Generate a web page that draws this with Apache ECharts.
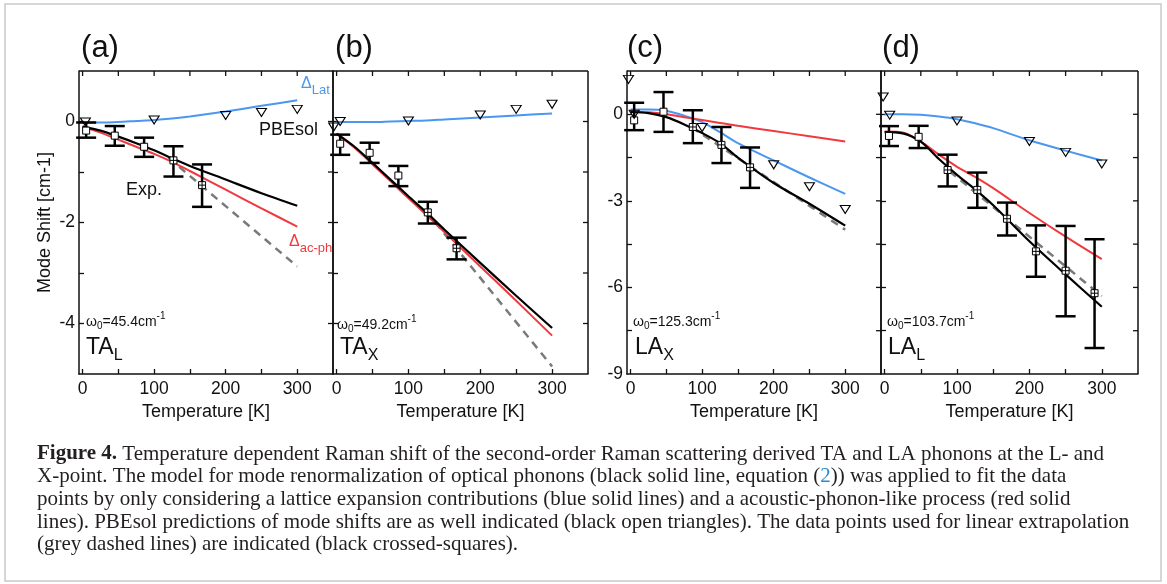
<!DOCTYPE html>
<html>
<head>
<meta charset="utf-8">
<script src="https://cdn.jsdelivr.net/npm/echarts@6/dist/echarts.min.js"></script>
<style>
  html, body { margin: 0; padding: 0; background: #fff; }
  #chart { width: 1167px; height: 584px; }
</style>
</head>
<body>
<div id="chart"></div>
<script>
// ---- data ----
const lineT = [0, 25, 50, 75, 100, 125, 150, 200, 250, 300];
const xRange = [-5, 350];
const xLabels = [0, 100, 200, 300];
const xTicks = [0, 50, 100, 150, 200, 250, 300];
const yRangeTA = [-5, 1];
const yLabelsTA = [0, -2, -4];
const yTicksTA = [-4, -3, -2, -1, 0];
const yRangeLA = [-9, 1.5];
const yLabelsLA = [0, -3, -6, -9];
const yTicksLA = [-7.5, -6, -4.5, -3, -1.5, 0];

// (a) TA_L
const aBlue = [-0.02, -0.02, -0.01, 0.01, 0.03, 0.06, 0.1, 0.2, 0.31, 0.42];
const aRed = [-0.1, -0.22, -0.36, -0.5, -0.64, -0.8, -0.98, -1.35, -1.72, -2.08];
const aBlack = [-0.1, -0.18, -0.3, -0.43, -0.57, -0.73, -0.88, -1.15, -1.42, -1.67];
const aDashT = [120, 300];
const aDash = [-0.72, -2.87];
const aExpT = [5, 45, 86, 127, 167];
const aExp = [-0.18, -0.28, -0.5, -0.77, -1.26];
const aExpHi = [-0.02, -0.09, -0.32, -0.49, -0.85];
const aExpLo = [-0.32, -0.48, -0.7, -1.09, -1.69];
const aCross = [0, 0, 0, 1, 1];
const aTriT = [4, 100, 200, 250, 300];
const aTri = [-0.01, 0.03, 0.12, 0.18, 0.24];

// (b) TA_X
const bBlue = [-0.01, -0.01, -0.01, 0.0, 0.01, 0.02, 0.04, 0.08, 0.12, 0.16];
const bRed = [-0.24, -0.52, -0.85, -1.18, -1.52, -1.85, -2.19, -2.87, -3.55, -4.24];
const bBlack = [-0.24, -0.5, -0.82, -1.15, -1.48, -1.8, -2.14, -2.8, -3.45, -4.09];
const bDashT = [125, 300];
const bDash = [-1.78, -4.85];
const bExpT = [5, 46, 86, 127, 167];
const bExp = [-0.44, -0.62, -1.07, -1.8, -2.51];
const bExpHi = [-0.26, -0.42, -0.88, -1.59, -2.3];
const bExpLo = [-0.66, -0.82, -1.28, -2.02, -2.73];
const bCross = [0, 0, 0, 1, 1];
const bTriT = [-4, 5, 100, 200, 250, 300];
const bTri = [-0.11, 0.0, 0.01, 0.13, 0.24, 0.34];

// (c) LA_X
const cBlue = [0.17, 0.17, 0.12, -0.05, -0.27, -0.62, -1.0, -1.6, -2.19, -2.76];
const cRed = [0.1, 0.07, 0.0, -0.1, -0.2, -0.3, -0.4, -0.58, -0.76, -0.94];
const cBlack = [0.08, 0.04, -0.1, -0.35, -0.65, -1.0, -1.5, -2.38, -3.1, -3.86];
const cDashT = [85, 300];
const cDash = [-0.45, -4.0];
const cExpT = [5, 46, 87, 127, 167];
const cExp = [-0.21, 0.09, -0.44, -1.06, -1.84];
const cExpHi = [0.4, 0.77, 0.14, -0.44, -1.15];
const cExpLo = [-0.55, -0.61, -1.0, -1.69, -2.55];
const cCross = [0, 0, 1, 1, 1];
const cTriT = [-3, 5, 100, 200, 250, 300];
const cTri = [1.21, 0.0, -0.46, -1.75, -2.51, -3.3];

// (d) LA_L
const dBlue = [0.0, 0.0, -0.02, -0.08, -0.17, -0.31, -0.48, -0.9, -1.26, -1.6];
const dRed = [-0.6, -0.63, -0.95, -1.4, -1.82, -2.17, -2.56, -3.42, -4.24, -5.02];
const dBlack = [-0.62, -0.66, -0.95, -1.55, -2.1, -2.6, -3.15, -4.4, -5.55, -6.67];
const dDashT = [90, 300];
const dDash = [-1.98, -6.3];
const dExpT = [6, 47, 87, 128, 169, 209, 250, 290];
const dExp = [-0.75, -0.78, -1.93, -2.62, -3.62, -4.75, -5.42, -6.2];
const dExpHi = [-0.41, -0.4, -1.4, -2.02, -3.06, -3.85, -3.87, -4.33];
const dExpLo = [-1.1, -1.17, -2.5, -3.24, -4.2, -5.63, -7.0, -8.1];
const dCross = [0, 0, 1, 1, 1, 1, 1, 1];
const dTriT = [-2, 7, 100, 200, 250, 300];
const dTri = [0.6, -0.03, -0.23, -0.94, -1.32, -1.72];

// ---- chart ----
const SANS = 'Liberation Sans, Arial, sans-serif';
const SERIF = 'Liberation Serif, Times New Roman, serif';
const BLUE = '#4b97f0';
const RED = '#f0393e';
const GREY = '#7a7a7a';
const INK = '#111';

const chart = echarts.init(document.getElementById('chart'));

const grids = [
  { left: 79, top: 71, width: 254, height: 303 },
  { left: 333, top: 71, width: 255, height: 303 },
  { left: 627, top: 71, width: 254, height: 303 },
  { left: 881, top: 71, width: 257, height: 303 }
];

function axisLine() { return { show: true, onZero: false, lineStyle: { color: INK, width: 1.5 } }; }
function ticks(vals) {
  return { show: true, inside: true, length: 5, customValues: vals, lineStyle: { color: INK, width: 1.3 } };
}

let xAxes = [], yAxes = [];
grids.forEach((g, i) => {
  const la = i >= 2;
  const yr = la ? yRangeLA : yRangeTA;
  xAxes.push({
    gridIndex: i, type: 'value', min: xRange[0], max: xRange[1],
    axisLine: axisLine(), splitLine: { show: false }, axisTick: ticks(xTicks),
    axisLabel: { customValues: xLabels, margin: 6, fontSize: 17.5, color: INK, fontFamily: SANS },
    name: 'Temperature [K]', nameLocation: 'middle', nameGap: 27,
    nameTextStyle: { fontSize: 18, color: INK, fontFamily: SANS }
  });
  const showYLab = (i === 0 || i === 2);
  yAxes.push({
    gridIndex: i, type: 'value', min: yr[0], max: yr[1],
    axisLine: axisLine(), splitLine: { show: false }, axisTick: ticks(la ? yTicksLA : yTicksTA),
    axisLabel: { show: showYLab, customValues: la ? yLabelsLA : yLabelsTA, margin: 4,
      fontSize: 17.5, color: INK, fontFamily: SANS },
    name: i === 0 ? 'Mode Shift [cm-1]' : '', nameLocation: 'middle', nameGap: 25,
    nameTextStyle: { fontSize: 18, color: INK, fontFamily: SANS }
  });
});

const pair = (xs, ys) => xs.map((x, k) => [x, ys[k]]);
const CROSS_SQ = 'path://M0,0H10V10H0Z M5,0V10 M0,5H10';

// top and right edges of each panel box, with inward ticks, placed through the axes' scales
function frameSeries(i) {
  const la = i >= 2;
  const yr = la ? yRangeLA : yRangeTA;
  const yt = la ? yTicksLA : yTicksTA;
  const ax = { xAxisIndex: i, yAxisIndex: i, clip: false };
  const st = { stroke: INK, lineWidth: 1.5 };
  const tk = { stroke: INK, lineWidth: 1.3 };
  return [
    Object.assign({
      type: 'custom', z: 6, silent: true, data: [[xRange[1], yr[1]]],
      renderItem: function (params, api) {
        const tl = api.coord([xRange[0], yr[1]]);
        const tr = api.coord([xRange[1], yr[1]]);
        const br = api.coord([xRange[1], yr[0]]);
        return { type: 'group', children: [
          { type: 'line', shape: { x1: tl[0], y1: tl[1], x2: tr[0], y2: tr[1] }, style: st },
          { type: 'line', shape: { x1: tr[0], y1: tr[1], x2: br[0], y2: br[1] }, style: st }
        ] };
      }
    }, ax),
    Object.assign({
      type: 'custom', z: 6, silent: true, data: xTicks.map(t => [t, yr[1]]),
      renderItem: function (params, api) {
        const p = api.coord([api.value(0), api.value(1)]);
        return { type: 'line', shape: { x1: p[0], y1: p[1], x2: p[0], y2: p[1] + 5 }, style: tk };
      }
    }, ax),
    Object.assign({
      type: 'custom', z: 6, silent: true, data: yt.map(v => [xRange[1], v]),
      renderItem: function (params, api) {
        const p = api.coord([api.value(0), api.value(1)]);
        return { type: 'line', shape: { x1: p[0], y1: p[1], x2: p[0] - 5, y2: p[1] }, style: tk };
      }
    }, ax)
  ];
}

function panelSeries(i, blue, red, black, dashT, dash, expT, exp, hi, lo, cross, triT, tri) {
  const ax = { xAxisIndex: i, yAxisIndex: i };
  const line = (vals, color, w, z) => Object.assign({
    type: 'line', data: pair(lineT, vals), smooth: 0.3, showSymbol: false, z: z,
    lineStyle: { color: color, width: w }, silent: true
  }, ax);
  return [
    Object.assign({
      type: 'line', data: pair(dashT, dash), showSymbol: false, z: 1, silent: true,
      lineStyle: { color: GREY, width: 2.5, type: [8, 6] }
    }, ax),
    line(blue, BLUE, 2, 2),
    line(red, RED, 2, 2),
    line(black, '#000', 2.2, 3),
    Object.assign({
      type: 'custom', z: 4, silent: true, clip: false,
      data: expT.map((t, k) => [t, lo[k], hi[k]]),
      renderItem: function (params, api) {
        const top = api.coord([api.value(0), api.value(2)]);
        const bot = api.coord([api.value(0), api.value(1)]);
        const hw = 10;
        const st = { stroke: '#000', lineWidth: 2.5 };
        return {
          type: 'group', children: [
            { type: 'line', shape: { x1: top[0], y1: top[1], x2: bot[0], y2: bot[1] }, style: st },
            { type: 'line', shape: { x1: top[0] - hw, y1: top[1], x2: top[0] + hw, y2: top[1] }, style: st },
            { type: 'line', shape: { x1: bot[0] - hw, y1: bot[1], x2: bot[0] + hw, y2: bot[1] }, style: st }
          ]
        };
      }
    }, ax),
    Object.assign({
      type: 'scatter', z: 5, silent: true, symbolSize: 7,
      data: expT.map((t, k) => ({ value: [t, exp[k]], symbol: cross[k] ? CROSS_SQ : 'rect' })),
      itemStyle: { color: '#fff', borderColor: '#000', borderWidth: 1, opacity: 1 }
    }, ax),
    Object.assign({
      type: 'scatter', z: 5, silent: true, symbol: 'triangle', symbolRotate: 180, symbolSize: [10, 8],
      data: pair(triT, tri),
      itemStyle: { color: 'rgba(255,255,255,0)', borderColor: '#000', borderWidth: 1.1, opacity: 1 }
    }, ax)
  ].concat(frameSeries(i));
}

const series = [].concat(
  panelSeries(0, aBlue, aRed, aBlack, aDashT, aDash, aExpT, aExp, aExpHi, aExpLo, aCross, aTriT, aTri),
  panelSeries(1, bBlue, bRed, bBlack, bDashT, bDash, bExpT, bExp, bExpHi, bExpLo, bCross, bTriT, bTri),
  panelSeries(2, cBlue, cRed, cBlack, cDashT, cDash, cExpT, cExp, cExpHi, cExpLo, cCross, cTriT, cTri),
  panelSeries(3, dBlue, dRed, dBlack, dDashT, dDash, dExpT, dExp, dExpHi, dExpLo, dCross, dTriT, dTri)
);

// ---- text helpers ----
const mctx = document.createElement('canvas').getContext('2d');
function measure(t, size, weight, family) {
  mctx.font = (weight || 'normal') + ' ' + size + 'px ' + family;
  return mctx.measureText(t).width;
}
// a run of text pieces laid left to right (for sub/superscripts and mixed styles)
function textRun(x, y, parts, family, baseColor) {
  let cx = x;
  return parts.map(p => {
    const el = {
      type: 'text', x: cx, y: y + (p.dy || 0), silent: true, z: 10,
      style: {
        text: p.t, fontSize: p.size, fontFamily: family, fontWeight: p.weight || 'normal',
        fill: p.color || baseColor, align: 'left', verticalAlign: 'middle'
      }
    };
    cx += measure(p.t, p.size, p.weight, family);
    return el;
  });
}

const graphics = [
  { type: 'rect', shape: { x: 5, y: 4, width: 1156, height: 577 }, silent: true, z: 0,
    style: { fill: 'none', stroke: '#c9c9c9', lineWidth: 1.5 } }
];
const panelLabels = [['(a)', 100], ['(b)', 354], ['(c)', 645], ['(d)', 901]];
panelLabels.forEach(p => graphics.push({
  type: 'text', x: p[1], y: 48, silent: true,
  style: { text: p[0], fontSize: 31, fontFamily: SANS, fill: INK, align: 'center', verticalAlign: 'middle' }
}));

const omegas = [[86, 322, '45.4'], [337, 325, '49.2'], [633, 322, '125.3'], [887, 322, '103.7']];
omegas.forEach(o => {
  graphics.push(...textRun(o[0], o[1], [
    { t: 'ω', size: 14 }, { t: '0', size: 10, dy: 4 }, { t: '=' + o[2] + 'cm', size: 14 },
    { t: '-1', size: 10, dy: -6 }
  ], SANS, INK));
});
const modes = [[86, 'TA', 'L'], [340, 'TA', 'X'], [635, 'LA', 'X'], [888, 'LA', 'L']];
modes.forEach(m => {
  graphics.push(...textRun(m[0], 348, [{ t: m[1], size: 23 }, { t: m[2], size: 16, dy: 8 }], SANS, INK));
});
graphics.push(...textRun(301, 84, [{ t: 'Δ', size: 16 }, { t: 'Lat', size: 13, dy: 6 }], SANS, BLUE));
graphics.push(...textRun(289, 242, [{ t: 'Δ', size: 16 }, { t: 'ac-ph', size: 13, dy: 6 }], SANS, RED));
graphics.push(...textRun(259, 130, [{ t: 'PBEsol', size: 18 }], SANS, INK));
graphics.push(...textRun(126, 190, [{ t: 'Exp.', size: 18 }], SANS, INK));

// caption
const CAP = 21;
const capLines = [
  [{ t: 'Figure 4.', size: CAP, weight: 'bold' },
   { t: ' Temperature dependent Raman shift of the second-order Raman scattering derived TA and LA phonons at the L- and', size: CAP }],
  [{ t: 'X-point. The model for mode renormalization of optical phonons (black solid line, equation (', size: CAP },
   { t: '2', size: CAP, color: '#2a8bd0' },
   { t: ')) was applied to fit the data', size: CAP }],
  [{ t: 'points by only considering a lattice expansion contributions (blue solid lines) and a acoustic-phonon-like process (red solid', size: CAP }],
  [{ t: 'lines). PBEsol predictions of mode shifts are as well indicated (black open triangles). The data points used for linear extrapolation', size: CAP }],
  [{ t: '(grey dashed lines) are indicated (black crossed-squares).', size: CAP }]
];
capLines.forEach((ln, k) => graphics.push(...textRun(37, 454 + k * 22.7, ln, SERIF, '#231f20')));

chart.setOption({
  backgroundColor: '#fff',
  animation: false,
  grid: grids,
  xAxis: xAxes,
  yAxis: yAxes,
  series: series,
  graphic: graphics
});
</script>
</body>
</html>
